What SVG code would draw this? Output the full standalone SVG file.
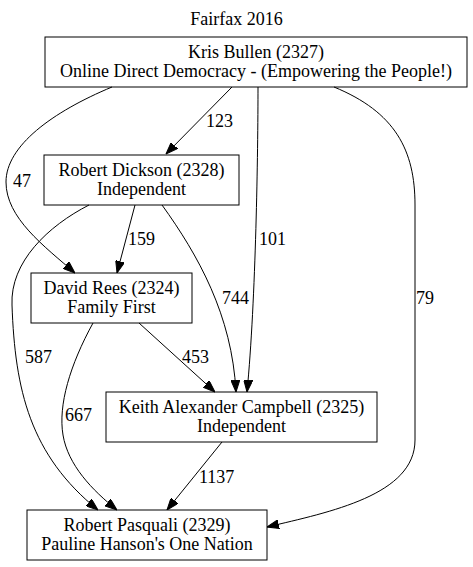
<svg xmlns="http://www.w3.org/2000/svg" width="473" height="567" viewBox="0 0 473 567">
<style>
text{font-family:'Liberation Serif','Times New Roman',Times,serif;font-size:18px;fill:#000}
.n text{text-anchor:middle}
.n rect{fill:none;stroke:#000;stroke-width:1}
.e path{fill:none;stroke:#000;stroke-width:1;marker-end:url(#ah)}
</style>
<defs>
<marker id="ah" viewBox="0 0 12 9" markerWidth="12" markerHeight="9" refX="12" refY="4.5" orient="auto" markerUnits="userSpaceOnUse">
<path d="M0,0 L12,4.5 L0,9 Z" fill="#000" stroke="#000"/>
</marker>
</defs>
<rect width="473" height="567" fill="#fff"/>
<g font-family="Liberation Serif, serif" font-size="18">
<text x="236.5" y="25" text-anchor="middle">Fairfax 2016</text>
<g class="e" id="edges">
<path d="M232,87 L166,154"/>
<path d="M112,87 C52,112 6,146 6,182 C6,218 44,246 75,273"/>
<path d="M258,87 C258,150 256,300 247,392"/>
<path d="M334,87 C395,112 415,150 415,205 L415,440 C415,495 330,512 267,527"/>
<path d="M135,205 L117,273"/>
<path d="M162,205 C198,255 232,315 236,392"/>
<path d="M89,205 C48,226 10,262 12,305 C15,390 30,455 98,510"/>
<path d="M139,323 L215,392"/>
<path d="M93,323 C70,365 58,405 63,435 C68,465 92,490 117,510"/>
<path d="M222,442 L167,510"/>
</g>
<g id="edge-labels">
<text x="206" y="127">123</text>
<text x="13" y="187">47</text>
<text x="259" y="245">101</text>
<text x="416" y="304">79</text>
<text x="128" y="245">159</text>
<text x="222" y="304">744</text>
<text x="25" y="363">587</text>
<text x="182" y="363">453</text>
<text x="65" y="421">667</text>
<text x="199" y="483">1137</text>
</g>
<g class="n" id="n2327">
<rect x="45" y="37" width="422" height="50"/>
<text x="256" y="57.5">Kris Bullen (2327)</text>
<text x="256" y="77">Online Direct Democracy - (Empowering the People!)</text>
</g>
<g class="n" id="n2328">
<rect x="44" y="155" width="195" height="50"/>
<text x="141.5" y="175.5">Robert Dickson (2328)</text>
<text x="141.5" y="195">Independent</text>
</g>
<g class="n" id="n2324">
<rect x="31" y="273" width="161" height="50"/>
<text x="111.5" y="293.5">David Rees (2324)</text>
<text x="111.5" y="313">Family First</text>
</g>
<g class="n" id="n2325">
<rect x="106" y="392" width="271" height="50"/>
<text x="241.5" y="412.5">Keith Alexander Campbell (2325)</text>
<text x="241.5" y="432">Independent</text>
</g>
<g class="n" id="n2329">
<rect x="27" y="510" width="240" height="50"/>
<text x="147" y="530.5">Robert Pasquali (2329)</text>
<text x="147" y="550">Pauline Hanson's One Nation</text>
</g>
</g>
</svg>
